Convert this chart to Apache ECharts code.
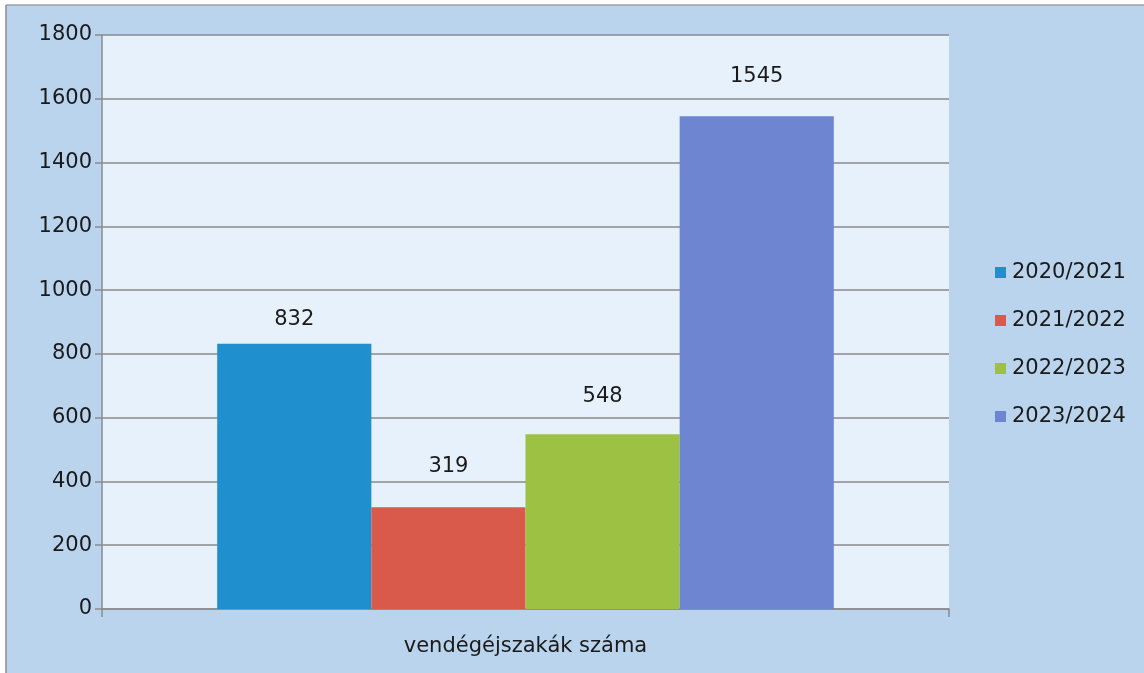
<!DOCTYPE html>
<html><head><meta charset="utf-8">
<script src="https://cdn.jsdelivr.net/npm/echarts@6/dist/echarts.min.js"></script>
<style>html,body{margin:0;padding:0;background:#fff;overflow:hidden}#c{width:1144px;height:673px}</style>
</head><body><div id="c"></div>
<script>
const categories = ['vendégéjszakák száma'];
const seriesNames = ['2020/2021', '2021/2022', '2022/2023', '2023/2024'];
const values2020 = [832];
const values2021 = [319];
const values2022 = [548];
const values2023 = [1545];
const colors = ['#1f8fcd', '#d9594b', '#9dc243', '#6e85d2'];
const yTicks = [0, 200, 400, 600, 800, 1000, 1200, 1400, 1600, 1800];

const allValues = [values2020, values2021, values2022, values2023];
const labelGaps = [14, 30, 27, 29];
const chart = echarts.init(document.getElementById('c'));
const font = '"DejaVu Sans", sans-serif';
chart.setOption({
  backgroundColor: '#fff',
  animation: false,
  graphic: [
    {type: 'rect', z: -10, silent: true,
     shape: {x: 6, y: 5, width: 1138, height: 668},
     style: {fill: '#bad4ed'}},
    {type: 'line', z: -9, silent: true,
     shape: {x1: 6, y1: 5, x2: 1144, y2: 5},
     style: {stroke: '#a0a0a0', lineWidth: 1.5}},
    {type: 'line', z: -9, silent: true,
     shape: {x1: 6, y1: 5, x2: 6, y2: 673},
     style: {stroke: '#8c8c8c', lineWidth: 1.5}}
  ],
  grid: {left: 102, right: 195, top: 35, bottom: 64, show: true,
    backgroundColor: '#e7f1fb', borderWidth: 0},
  legend: {
    orient: 'vertical', left: 990, top: 257,
    itemWidth: 11, itemHeight: 11, itemGap: 27,
    icon: 'rect',
    textStyle: {fontFamily: font, fontSize: 21, color: '#1a1a1a', padding: [0,0,0,1]},
    data: seriesNames
  },
  xAxis: {
    type: 'category', data: categories,
    axisLine: {lineStyle: {color: '#8a8a8a', width: 1.5}},
    axisTick: {show: true, length: 8, lineStyle: {color: '#8a8a8a', width: 1.5}},
    axisLabel: {fontFamily: font, fontSize: 21, color: '#1a1a1a', margin: 27}
  },
  yAxis: {
    type: 'value', min: 0, max: 1800, interval: 200,
    axisLine: {show: true, lineStyle: {color: '#8a8a8a', width: 1.5}},
    axisTick: {show: true, length: 7, lineStyle: {color: '#8a8a8a', width: 1.5}},
    splitLine: {lineStyle: {color: '#8a8a8a', width: 1.5}},
    axisLabel: {fontFamily: font, fontSize: 21, color: '#1a1a1a', margin: 10,
      formatter: v => yTicks.includes(v) ? String(v) : ''}
  },
  series: seriesNames.map((n, i) => ({
    name: n, type: 'bar', data: allValues[i],
    barGap: '0%', barCategoryGap: '27.2%',
    itemStyle: {color: colors[i]},
    label: {show: true, position: 'top', distance: labelGaps[i], fontFamily: font, fontSize: 21, color: '#1a1a1a'}
  }))
});
</script></body></html>
